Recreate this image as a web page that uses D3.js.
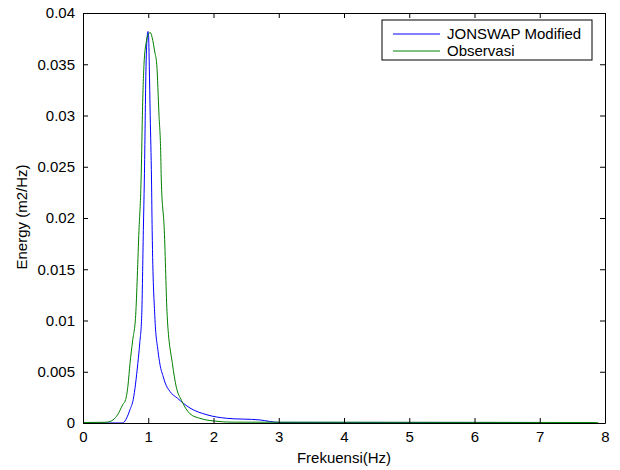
<html>
<head>
<style>
  body { margin: 0; background: #fff; }
  text { font-family: "Liberation Sans", Arial, sans-serif; }
</style>
</head>
<body>
<div id="chart"></div>
<script src="https://d3js.org/d3.v7.min.js"></script>
<script>
// frequency (Hz) and energy (m2/Hz)
var jonswapFreq = [0, 0.6, 0.62, 0.67, 0.72, 0.77, 0.84, 0.87, 0.9, 0.925, 0.94, 0.966, 0.985, 0.995, 1.005, 1.016, 1.03, 1.05, 1.06, 1.1, 1.15, 1.18, 1.23, 1.26, 1.33, 1.45, 1.64, 1.9, 2.2, 2.71, 3.0, 7.0];
var jonswapEnergy = [0, 0, 0.00003, 0.0005, 0.0013, 0.0023, 0.0058, 0.0078, 0.0105, 0.0188, 0.0237, 0.0348, 0.0378, 0.0382, 0.0378, 0.0348, 0.03, 0.0237, 0.0188, 0.0105, 0.007, 0.0057, 0.0045, 0.0039, 0.0031, 0.0024, 0.00146, 0.0008, 0.00046, 0.0003, 0.00006, 0.00005];

var obsFreq = [0, 0.34, 0.4, 0.46, 0.53, 0.61, 0.654, 0.69, 0.72, 0.76, 0.807, 0.858, 0.89, 0.9, 0.91, 0.935, 0.97, 1.0, 1.03, 1.06, 1.1, 1.13, 1.165, 1.19, 1.2, 1.246, 1.29, 1.37, 1.43, 1.51, 1.64, 1.79, 2.0, 2.3, 7.85, 7.9];
var obsEnergy = [0.00005, 0.00007, 0.00012, 0.0003, 0.0008, 0.0018, 0.0023, 0.0037, 0.0058, 0.008, 0.0105, 0.0188, 0.0237, 0.0266, 0.03, 0.035, 0.0372, 0.0379, 0.0381, 0.0376, 0.0362, 0.035, 0.03, 0.0266, 0.0237, 0.0188, 0.0105, 0.0058, 0.0035, 0.0022, 0.0009, 0.00046, 0.0002, 0.00008, 0.00005, 0];

var xTicks = [0, 1, 2, 3, 4, 5, 6, 7, 8];
var yTicks = [0, 0.005, 0.01, 0.015, 0.02, 0.025, 0.03, 0.035, 0.04];
var seriesNames = ["JONSWAP Modified", "Observasi"];
var seriesColors = ["#0000ff", "#008000"];

var margin = { top: 13, right: 15, bottom: 47, left: 83 },
    width = 620 - margin.left - margin.right,
    height = 470 - margin.top - margin.bottom;

var svg = d3.select("#chart")
    .append("svg")
    .attr("width", 620)
    .attr("height", 470)
    .append("g")
    .attr("transform", "translate(" + margin.left + "," + margin.top + ")");

var x = d3.scaleLinear().domain([0, 8]).range([0, width]);
var y = d3.scaleLinear().domain([0, 0.04]).range([height, 0]);

// curves
var line = d3.line()
    .curve(d3.curveMonotoneX)
    .x(function (d) { return x(d[0]); })
    .y(function (d) { return y(d[1]); });

var series = [
    d3.zip(jonswapFreq, jonswapEnergy),
    d3.zip(obsFreq, obsEnergy)
];

series.forEach(function (s, i) {
    svg.append("path")
        .datum(s)
        .attr("fill", "none")
        .attr("stroke", seriesColors[i])
        .attr("stroke-width", 1)
        .attr("d", line);
});

// axes, ticks pointing inward like matlab
function styleAxis(g) {
    g.selectAll("path").attr("stroke", "#000").attr("stroke-width", 1);
    g.selectAll("line").attr("stroke", "#000");
    g.selectAll("text").style("font-size", "15px").attr("fill", "#000")
        .style("font-family", "Liberation Sans, Arial, sans-serif");
}

svg.append("g")
    .attr("transform", "translate(0," + height + ")")
    .call(d3.axisBottom(x).tickValues(xTicks).tickSizeInner(-5).tickSizeOuter(0).tickPadding(8).tickFormat(d3.format("d")))
    .call(styleAxis);

svg.append("g")
    .call(d3.axisLeft(y).tickValues(yTicks).tickSizeInner(-5).tickSizeOuter(0).tickPadding(8).tickFormat(function (d) { return d === 0 ? "0" : String(+d.toFixed(3)); }))
    .call(styleAxis);

svg.append("g")
    .call(d3.axisTop(x).tickValues(xTicks).tickSizeInner(-5).tickSizeOuter(0).tickFormat(""))
    .call(styleAxis);

svg.append("g")
    .attr("transform", "translate(" + width + ",0)")
    .call(d3.axisRight(y).tickValues(yTicks).tickSizeInner(-5).tickSizeOuter(0).tickFormat(""))
    .call(styleAxis);

// axis labels
svg.append("text")
    .attr("x", width / 2)
    .attr("y", height + 40)
    .attr("text-anchor", "middle")
    .style("font-size", "15px")
    .text("Frekuensi(Hz)");

svg.append("text")
    .attr("transform", "rotate(-90)")
    .attr("x", -(217 - margin.top))
    .attr("y", -56)
    .attr("text-anchor", "middle")
    .style("font-size", "15px")
    .text("Energy (m2/Hz)");

// legend
var legend = svg.append("g")
    .attr("transform", "translate(" + (382 - margin.left) + "," + (20 - margin.top) + ")");

legend.append("rect")
    .attr("width", 210)
    .attr("height", 40)
    .attr("fill", "#fff")
    .attr("stroke", "#000");

seriesNames.forEach(function (name, i) {
    var yy = 14 + i * 17;
    legend.append("line")
        .attr("x1", 11).attr("x2", 58)
        .attr("y1", yy).attr("y2", yy)
        .attr("stroke", seriesColors[i]);
    legend.append("text")
        .attr("x", 65)
        .attr("y", yy + 5)
        .style("font-size", "15px")
        .text(name);
});
</script>
</body>
</html>
